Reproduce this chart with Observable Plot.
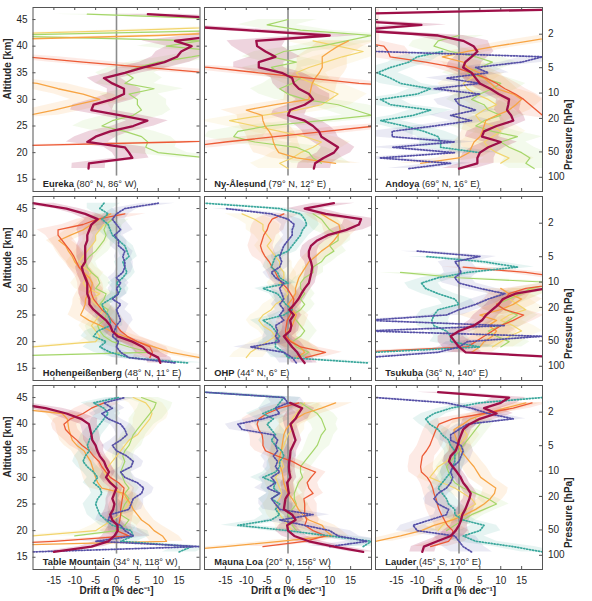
<!DOCTYPE html>
<html>
<head>
<meta charset="utf-8">
<script src="https://cdn.jsdelivr.net/npm/d3@7"></script>
<script src="https://cdn.jsdelivr.net/npm/@observablehq/plot@0.6"></script>
<style>
  body { margin: 0; background: #ffffff; }
  #chart { position: relative; width: 592px; height: 601px; font-family: "Liberation Sans", Arial, sans-serif; }
  #chart svg { position: absolute; }
</style>
</head>
<body>
<div id="chart"></div>
<script>
const N = null;

// Station panels, left to right, top to bottom
const stations = ["Eureka", "Ny-Ålesund", "Andoya", "Hohenpeißenberg", "OHP", "Tsukuba", "Table Mountain", "Mauna Loa", "Lauder"];
const locations = ["(80° N, 86° W)", "(79° N, 12° E)", "(69° N, 16° E)", "(48° N, 11° E)", "(44° N, 6° E)", "(36° N, 140° E)", "(34° N, 118° W)", "(20° N, 156° W)", "(45° S, 170° E)"];

// Altitude levels (km) shared by every profile
const altitudes = [16, 17, 18, 19, 20, 21, 22, 23, 24, 25, 26, 27, 28, 29, 30, 31, 32, 33, 34, 35, 36, 37, 38, 39, 40, 41, 42, 43, 44, 45, 46, 47];

// Axis ticks
const altitudeTicks = [15, 20, 25, 30, 35, 40, 45];
const driftTicks = [-15, -10, -5, 0, 5, 10, 15];
const pressureTicks = [2, 5, 10, 20, 50, 100];

// Drift profiles (% per decade) per station, one value per altitude level
const driftA = [
  [N,-6.7,-6.6,3.8,3, 2,-7,-5,-1.5,4, 7.4,1,-6,-5.5,-1, 1.8,1.8,-1,-3,2, 6.5,11.5,14.5,15.5,18, 14,25,30,30,30, 7.5,N],
  [N,6.2,6.5,8.5,11, 12,10,8,7.4,6, 4,0,0.5,4,6, 5,2.6,1.4,1,-1.5, -7,-7,-3,-5.4,-7.4, -7.6,10,-10,-30,N, N,N],
  [N,0,4.4,4.4,5, 7,10,5.5,6,9, 13,12.5,11.5,11.8,12, 9.5,7.5,5,4,3, 1,1.5,3,4.4,3.5, 1,-5,-25,-9,-30, -30,30],
  [10.5,10,7.5,6.3,3.8, 0.3,-1,-1.5,-2.5,-4, -5.5,-6.5,-6.5,-7,-7, -7,-7.5,-8,-8.3,-7.5, -7.5,-7.5,-7.5,-7,-7, -6.5,-6,-4.5,-7.5,-12, -20,N],
  [4,3,2.2,1,0, -1,0.5,0.8,0.5,1.4, 0.3,1.5,2.5,3.2,4, 5,5.3,5.6,5.8,5.5, 5,5,5.5,7,9.5, 14,17,17.5,9,4, 11,N],
  [N,25,1.6,0,-1, -2,0,3.5,5.5,6.5, 8,9.5,10.5,13.5,21, N,N,N,N,N, N,N,N,N,N, N,N,N,N,N, N,N],
  [-15,-6,-2,-0.5,0.3, 0.2,-1,-1.5,-0.8,-0.5, -1,-0.5,0,-1.5,-2.5, -1.8,-2.5,-3,-4,-4.6, -5,-5.8,-6,-6.3,-6.6, -8.5,-12,-17,-25,N, N,N],
  [18,11,5,1.5,0, -0.2,1.8,1,-1,-0.8, -0.6,0.2,0,-0.2,0.6, 0.3,0.2,0.3,0.5,0.6, 1.2,1.8,1.4,1,0.6, 1.8,2.5,3.4,0.5,N, N,N],
  [-8.8,-8.4,-5.2,-2,-0.8, 0,0.5,0.8,1.5,2, 2.5,2.8,2,1,0.4, -0.5,-1.5,-2.4,-2,-0.8, -0.3,0,0.5,1,2.5, 5,9,6,10,12, -5,N]
];
const driftB = [
  [-40,-40,-40,-40,-40, -40,15,60,60,60, 60,60,60,60,60, 60,60,60,60,22, 7,-8,-22,-40,-40, -40,-40,-40,-40,-40, -40,-40],
  [-40,-40,-40,-40,-40, -25,-15,-3,9,21, 40,40,40,40,40, 40,40,17,5,-7, -19,-40,-40,-40,-40, -40,-40,-40,-40,-40, -40,-40],
  [30,30,30,30,30, 30,30,30,30,30, 30,20,18.5,17,15.5, 13.5,11,9,6.5,3, -1,-8,-16.5,-17,-18, -25,-25,-25,-25,-25, -25,-25],
  [N,8,8.6,8,5, 2.6,1,0,-1.2,-2, -3.5,-4.5,-5.5,-6,-6.2, -6.8,-7.2,-8,-9,-9.6, -10.2,-11,-12,-13,-14, -14,-8,-4.5,2,N, N,N],
  [N,4.2,9,3,0.6, -0.4,-0.6,-0.4,-0.2,0.5, 1,1.2,1.4,0.6,-0.2, -1.5,-2.4,-3,-3.8,-4.5, -5.5,-6.2,-6.6,-6.2,-5.8, -5,-4.6,-3.8,-1,N, N,N],
  [N,N,-25,2,4, 6,8,10,13,15.5, 11,9,11,12,16, 25,25,16,1,N, N,N,N,N,N, N,N,N,N,N, N,N],
  [-40,-40,-15,3,0, 0.5,0.8,1,1,1.2, 1.4,1.6,1.8,0.5,-1.5, -2.5,-3.5,-4.2,-5.5,-6.5, -8.2,-9.5,-11,-12.2,-12.6, -11,-8,-6,-3,N, N,N],
  [N,-6,4,9,6, 4,4.5,4,4,4, 3.8,6,5,4.6,5.5, 6.6,3.4,1,-2.5,-5.4, -6,-6,-6.2,-7,-7.4, -7,-5,-2,2.6,N, N,N],
  [N,-6.8,-2.5,-1.5,-1.5, -2.8,-3.5,-4.2,-4.8,-5.2, -5.5,-6,-6.3,-6.8,-7.6, -9,-9.2,-9,-8.8,-7.8, -7,-6.5,-6,-5.5,-4.8, -1.5,6,13,17.5,N, N,N]
];
const driftC = [
  [-40,-40,-40,-40,-40, -40,-40,-40,-40,-40, -40,-21,-15,-9.5,-4, -8,-14,-19,-30,-40, -40,-40,-40,-40,-40, -40,10,40,40,40, 40,40],
  [N,N,11.4,2,-2.2, -3,-3.5,-3.8,-4.5,-5.5, -6,-6.2,-10,-3,5, 5.2,5.5,5.8,6.5,7.5, 8.2,8.2,8.2,10,12, 14.5,N,N,N,N, N,N],
  [N,N,-9.2,0,2.4, 3,3.6,5,5.6,6, 6.4,9,12,13.6,15, 13,9,7.6,6,4.8, 2,1,-4,2,9, 17,25,N,N,N, N,N],
  [30,20,13,9,5, 2,-1.5,-3.8,-6.6,-8.6, -8,-7.5,-7.4,-6.8,-6, -5.8,-6.5,-7.8,-9,-10, -10.6,-11.5,-12.2,-13.8,-11, -8,-6,-4,-1.4,N, N,N],
  [N,2,4,3,1, -1,0,1,1.5,2, 1,0,1,1.8,1.8, 2.2,2.6,3.4,4.2,5, 6.6,8,9.8,11,12, 12.5,12.2,10,8,N, N,N],
  [N,N,3,5,6, 8,9,7,9,5, 10,13,15,12,10, N,N,N,N,N, N,N,N,N,N, N,N,N,N,N, N,N],
  [-40,-40,12,11,9, 7.8,6,5,4,3.4, 2.5,1.8,-3.5,-4.5,-5, -5.4,-5.8,-6.2,-7,-7.8, -9.5,-10.6,-11,-11.4,-11.6, -11.8,-13,-25,N,N, N,N],
  [-30,-15,-2,10.6,9, 8.2,5,3.5,2.5,1.8, 1,0,-0.6,-1,-1.2, -1.4,-1.8,-2.2,-2,-1.6, -1.4,-1.2,-1,-0.5,0.5, 1.8,4,8,11.4,N, N,N],
  [N,N,-20,-14,-9, -6,-1.5,1.5,4,6, 7.5,8.5,8.8,7,5.2, 4.4,3.6,2.5,1.5,0.4, 0,-0.5,-1,-1.2,1, 2.8,6.5,11,16,N, N,N]
];
const driftD = [
  [N,N,N,N,N, N,N,N,N,N, N,N,N,N,N, N,N,N,N,N, N,N,N,N,N, N,-40,5,40,40, N,N],
  [N,0,-2,1,3, 6,8,4,-2,-8, -14,-6,2,8,10, 12,9,6,3,2, 5,9,13,18,12, 6,N,N,N,N, N,N],
  [N,N,10,12,9, 7,6,8,10,8, 5,4,6,9,7, 4,2,1,3,5, N,N,N,N,N, N,N,N,N,N, N,N],
  [N,N,-40,-20,-5, -4,-5,-6,-5,-4, -3,-5,-6,-4,-7, -8,-7,-6,-8,-9, -8,-7,-6,-5,-5, -4,-3,N,N,N, N,N],
  [N,-10,-9,-7,-5, -3,-4,-6,-7,-6, -4,-3,-1,0,-1, -2,-1,-1,-2,-2, -3,-4,-5,-4,-5, -6,-6,-8,-11,N, N,N],
  [N,N,N,8,10, 12,15,13,10,12, 16,14,12,15,18, N,N,N,N,N, N,N,N,N,N, N,N,N,N,N, N,N],
  [N,N,N,-20,-5, -3,-1,1,2,3, 2,1,0,-1,-2, -3,-2,-1,0,1, 2,3,5,6,7, 8,8.5,8,7,4, N,N],
  [N,N,N,N,1, 0,-1,-2,-2.5,-3, -2,-1.5,-2,-2.5,-3, -2,-1,-1.5,-2,-1.5, -1,-0.5,0,1,1, 1,2,3,4,N, N,N],
  [N,N,N,N,-5, -4,-2,0,2,4, 3,1,-1,-4,-7, -6,-5,-3,-2,-1, 0,1,2,1,N, N,N,N,N,N, N,N]
];
const driftE = [
  [N,N,N,22,10, 7,7.5,6,2,-3.5, -1,4,6,5,5, 3,9,2,4,2, 5,10,18,25,12, 20,-30,30,30,30, -7,N],
  [N,N,8,6,5, 2,-8,-13,-12,-5, 8,20,16,12,4, 0,-2,1,3,-2, -4,2,-4,-1,8, 14,20,3,-5,0, N,N],
  [N,18,16,17,15, 12,10,14,8,4, 6,10,7,6,3, 5,8,10,6,2, 5,8,4,-2,-6, -5,0,N,N,N, N,N],
  [N,-40,8,3,-1, -3,-4,-4.5,-3,-2.5, -2,-4,-3,-2.5,-5, -4,-4.5,-6,-7,-7.5, -6.5,-5,-4,-3,-2.5, -3,-2.5,-1,N,N, N,N],
  [N,3,5,2,1, 3,4,3,2,1, 3,4,3,4,3, 3,4,6,6,8, 9,11,10,12,12, 10,9,8,6,N, N,N],
  [N,N,N,10,12, 9,7,10,12,14, 11,9,12,15,17, 25,0,-14,N,N, N,N,N,N,N, N,N,N,N,N, N,N],
  [N,N,N,-10,0, 2,3,1,1.5,2, 3,2,3,2,1.5, 1,1.5,2,1.5,2, 3,3.5,4,5,6, 7,8,9,9.5,6, N,N],
  [N,N,N,N,2, 1,1,0,1,2, 1.5,1.5,2,2.5,3.5, 3,3,4,5,6, 7,7.5,8,9,8.5, 8,7,5,3,N, N,N],
  [N,N,N,N,-3, -1,1,3,6,9, 7,4,1,-1,-2, -2.5,-3,-2,-1,0, 1,2,3,4,5, 4,N,N,N,N, N,N]
];
const driftF = [
  [N,N,N,N,N, N,N,N,N,N, N,N,N,N,N, N,N,N,N,N, N,N,N,N,N, N,N,N,N,N, N,N],
  [N,N,N,N,N, N,N,N,N,N, N,N,N,N,N, N,N,N,N,N, N,N,N,N,N, N,N,N,N,N, N,N],
  [N,N,N,N,5, -4.4,-4.4,-5,-8.4,-13, -18.8,-11,-6.8,-16.4,-18.8, -10,-6.8,-14,-16.4,-19.6, -16.4,-12,-10,-4,N, N,N,N,N,N, N,N],
  [17,3,-1.5,-4,-2.5, -5.5,-4.5,-1.5,-1.5,-2, -3,-3.5,-1.5,0.5,1, 0,1.5,2.5,2,1.5, 3,2.5,2,0.5,-1, -1.5,-2,-3.5,-2,-4, -3,N],
  [19,0,-1,-3,-3, -2,-3,-4,-6,-1, 1,-0.5,-1.5,-2.5,-6, 0,-2,-2.5,-4,-3.5, -3,0,1,2,3, 3.5,4.5,4,3,-2, -20,N],
  [N,N,-20,5,-2, -2,-3,-6,-6.5,-6, -5,0,-1,-5,-8, -9,-5,2,14,6, -8,N,N,N,N, N,N,N,N,N, N,N],
  [15,18,1,4,3.5, -1,-2.5,-4,-4.5,-5, -4.5,-3.5,-4,-5.5,-4.5, -5.5,-7,-8,-7.5,-6.5, -7,-6.5,-6,-5,-4, -3,-2,-3,-5.5,0.5, N,N],
  [N,18,20,10,0, -12,-4,-2,-3,-2, -4,-2,-3.5,-3,-6, -3,-2,-2,-1,-1.5, -3,-4,-3,-4,-5, -3.5,-6,-3,-2,-1, -20,N],
  [20,13,4,1,5, 6,1,-1,-1,-2.5, -3,-4,-5,-4,-3, -2,-1.5,-1,-1,-1, -2,-2.5,-4,-5,-7, -8,-6,-2,5,20, N,N]
];
const driftG = [
  [N,N,N,N,N, N,N,N,N,N, N,N,N,N,N, N,N,N,N,N, N,N,N,N,N, N,N,N,N,N, N,N],
  [N,N,N,N,N, N,N,N,N,N, N,N,N,N,N, N,N,N,N,N, N,N,N,N,N, N,N,N,N,N, N,N],
  [N,-12,-2,-19,-1, -16,-1,-16,-16,-6, 3,-2,4,0,-1, 5,-6,5,-3,7, 4,15,20,-20,N, N,N,N,N,N, N,N],
  [14,3,1,0,0.5, -1,-0.5,0,1,0.5, 0,1,-1,0.5,0, 1,0,1.5,2,2, 1.5,2,0.5,0.5,-0.5, 1,0,-1,0,2, 10,N],
  [2,1,-1,-9,-2, -3,-2.5,-3,-1,-2, -1,-2,-1,-1.5,-2, -1,-3,-4,-2,-1.5, -2,-1.5,-1,0,1, 1,1.5,0,-4,-15, N,N],
  [N,-22,-5,0,2, 20,-22,11,-22,-3, 0,4,7,11,5, 0,-1,0.5,0,-1, 5,-10,N,N,N, N,N,N,N,N, N,N],
  [-20,20,-5,4,2, 1,-2,-1.5,3,3.5, 4,6,6.5,5,2, 1,3.5,4,2.5,0, -1,1,2.5,2,1, -2,-3.5,-1,-3,2, N,N],
  [N,10,19,12,10, 4,-2,6,-2,-3, -4,-2,-5,-3,-4, -2,-3,-2.5,-3.5,-2.5, -3,-2.5,-3.5,-11,-12, -6,-2,-3,0,-1, -20,N],
  [3,1,0,-1,-10, -11,-7,-3,-2.5,-5, -6,-5,-3,-2,-1.5, -2,-1.5,0,0.5,1, 0.5,-2,-2,0,2, 13,7,3,-3,-20, N,N]
];

// Uncertainty half-widths (% per decade) per 5 km layer: 16-20, 21-25, 26-30, 31-35, 36-40, 41-45, 46-47 km
const bandA = [[4,5,5,4,6,8,8],[4,4,4,5,6,7,7],[4,4,3,3,4,6,6],[3,2,2,1.5,2,3,5],[3,2,1.5,1.5,2,4,5],[4,3,3,3,3,3,3],[3,2,1.5,1.5,2,4,5],[3,2,1.5,1.5,1.5,3,4],[3,2,1.5,1.5,2,4,5]];
const bandB = [[8,8,8,8,8,8,8],[8,8,8,8,8,8,8],[6,5,5,5,5,6,6],[4,3,3,2.5,3,5,6],[4,2.5,2,2,3,4,5],[5,5,5,5,5,5,5],[4,3,2.5,2.5,3,4,5],[4,3,2.5,2.5,3,4,5],[4,3,2.5,3,3,4,5]];
const bandC = [[8,8,7,7,8,8,8],[6,6,6,6,6,7,7],[5,5,5,5,5,6,6],[4,3,3,2.5,3,4,5],[4,3,2.5,2.5,3,4,5],[5,5,5,5,5,5,5],[4,3,3,3,3,4,5],[4,3,2.5,2.5,2.5,4,5],[4,3,3,3,3,4,5]];
const bandD = [[8,8,8,8,8,8,8],[7,7,7,7,7,7,7],[6,6,6,6,6,6,6],[4,3,3,3,3,4,5],[4,3,3,3,3,4,5],[5,5,5,5,5,5,5],[4,3,3,3,3,4,5],[4,3,3,3,3,4,5],[4,3,3,3,3,4,5]];
const bandE = [[7,7,7,7,7,8,8],[7,7,7,7,7,7,7],[6,6,6,6,6,6,6],[4,3,2.5,2.5,3,4,5],[4,3,2.5,2.5,3,4,5],[5,5,5,5,5,5,5],[4,3,2.5,2.5,3,4,5],[4,3,2.5,2.5,3,4,5],[4,3,2.5,2.5,3,4,5]];
const bandF = [[0,0,0,0,0,0,0],[0,0,0,0,0,0,0],[5,5,5,5,5,5,5],[4,3,2,2,2,3,4],[4,3,2,2,2,3,4],[5,4,4,4,4,4,4],[4,3,2.5,2.5,2.5,3,4],[5,4,3,3,3,4,5],[5,3,2.5,2.5,2.5,3,4]];
const bandG = [[0,0,0,0,0,0,0],[0,0,0,0,0,0,0],[5,5,5,5,5,5,5],[4,3,2,2,2,3,4],[4,3,2,2,2,3,4],[5,4,4,4,4,4,4],[4,3,2.5,2.5,2.5,3,4],[5,4,3,3,3,4,5],[5,3,2.5,2.5,2.5,3,4]];

// Series styling, drawn back to front: D, E, C, B, F, G, A
const profiles = [
  {drift: driftD, band: bandD, color: "#f2d46c", width: 1.2, dash: null, opacity: 0.13},
  {drift: driftE, band: bandE, color: "#a5d66a", width: 1.2, dash: null, opacity: 0.13},
  {drift: driftC, band: bandC, color: "#f7a443", width: 1.3, dash: null, opacity: 0.14},
  {drift: driftB, band: bandB, color: "#ec5a35", width: 1.3, dash: null, opacity: 0.13},
  {drift: driftF, band: bandF, color: "#3aa79c", width: 1.7, dash: "1.1,1.9", opacity: 0.13},
  {drift: driftG, band: bandG, color: "#554fa6", width: 1.7, dash: "1.3,1.7", opacity: 0.12},
  {drift: driftA, band: bandA, color: "#9e0f48", width: 2.3, dash: null, opacity: 0.18}
];

// Pressure levels placed on the altitude axis with a 6.87 km scale height
const pressureAlt = p => 15.37 + 6.87 * Math.log(100 / p);
const pressureLabel = new Map(pressureTicks.map(p => [pressureAlt(p), String(p)]));

const frameW = 167, frameH = 184;
const colLeft = [32.5, 203.5, 374.5];
const rowTop = [7, 196, 385];
const yDomain = [12.7, 47.26];
const axisColor = "#555555";
const textColor = "#262626";
const font = "'Liberation Sans', Arial, sans-serif";

const ctx = document.createElement("canvas").getContext("2d");
ctx.font = `bold 9.3px ${font}`;

const chart = document.getElementById("chart");

stations.forEach((name, i) => {
  const r = Math.floor(i / 3), c = i % 3;
  const ml = c === 0 ? 32.5 : 1, mr = c === 2 ? 51 : 1, mt = 1, mb = r === 2 ? 32 : 1;
  const marks = [];

  // uncertainty bands
  for (const p of profiles) {
    const rows = altitudes.map((alt, k) => {
      const v = p.drift[i][k];
      const e = p.band[i][Math.min(6, Math.floor(k / 5))];
      return {alt, lo: v == null ? null : v - e, hi: v == null ? null : v + e};
    });
    marks.push(Plot.areaX(rows, {y: "alt", x1: "lo", x2: "hi", fill: p.color, fillOpacity: p.opacity, clip: true}));
  }

  // zero-drift reference
  marks.push(Plot.ruleX([0], {y1: 15.6, y2: yDomain[1], stroke: "#8c8c8c", strokeWidth: 1.6}));

  // drift profiles
  for (const p of profiles) {
    const rows = altitudes.map((alt, k) => ({alt, v: p.drift[i][k]}));
    marks.push(Plot.lineX(rows, {
      x: "v", y: "alt", stroke: p.color, strokeWidth: p.width,
      strokeDasharray: p.dash, clip: true
    }));
  }

  // box and inward ticks
  marks.push(Plot.frame({stroke: axisColor, strokeWidth: 1}));
  marks.push(Plot.ruleY(altitudeTicks, {insetRight: frameW - 3, stroke: axisColor}));
  if (c === 2) {
    marks.push(Plot.ruleY(pressureTicks.map(pressureAlt), {insetLeft: frameW - 3, stroke: axisColor}));
  } else {
    marks.push(Plot.ruleY(altitudeTicks, {insetLeft: frameW - 3, stroke: axisColor}));
  }
  marks.push(Plot.ruleX(driftTicks, {insetTop: frameH - 3, stroke: axisColor}));
  marks.push(Plot.ruleX(driftTicks, {insetBottom: frameH - 3, stroke: axisColor}));

  // station label: bold name followed by coordinates
  const nameWidth = ctx.measureText(name).width;
  marks.push(Plot.text([name], {
    text: d => d, frameAnchor: "bottom-left", dx: 9.8, dy: -5,
    textAnchor: "start", lineAnchor: "bottom", fontWeight: "bold", fontSize: 9.3, fill: textColor
  }));
  marks.push(Plot.text([locations[i]], {
    text: d => d, frameAnchor: "bottom-left", dx: 9.8 + nameWidth + 2.6, dy: -5,
    textAnchor: "start", lineAnchor: "bottom", fontSize: 9.3, fill: textColor
  }));

  if (c === 0) {
    marks.push(Plot.text(["Altitude [km]"], {
      text: d => d, frameAnchor: "left", dx: -25, rotate: -90,
      fontWeight: "bold", fontSize: 10, fill: textColor
    }));
  }
  if (c === 2) {
    marks.push(Plot.text(["Pressure [hPa]"], {
      text: d => d, frameAnchor: "right", dx: 26.5, rotate: -90,
      fontWeight: "bold", fontSize: 10, fill: textColor
    }));
  }
  if (r === 2) {
    marks.push(Plot.text(["Drift α [% dec⁻¹]"], {
      text: d => d, frameAnchor: "bottom", dy: 21, lineAnchor: "middle",
      fontWeight: "bold", fontSize: 10, fill: textColor
    }));
  }

  const svg = Plot.plot({
    width: ml + frameW + mr,
    height: mt + frameH + mb,
    marginLeft: ml, marginRight: mr, marginTop: mt, marginBottom: mb,
    style: {background: "transparent", overflow: "visible", fontFamily: font, fontSize: "10px", color: textColor},
    x: {
      domain: [-20, 20], axis: r === 2 ? "bottom" : null, ticks: driftTicks,
      tickFormat: d => String(d), tickSize: 0, tickPadding: 7, label: null
    },
    y: {
      domain: yDomain,
      axis: c === 0 ? "left" : c === 2 ? "right" : null,
      ticks: c === 2 ? pressureTicks.map(pressureAlt) : altitudeTicks,
      tickFormat: c === 2 ? (d => pressureLabel.get(d)) : (d => String(d)),
      tickSize: 0, tickPadding: 5.5, label: null
    },
    marks
  });
  svg.style.left = `${colLeft[c] - ml}px`;
  svg.style.top = `${rowTop[r] - mt}px`;
  chart.appendChild(svg);
});
</script>
</body>
</html>
